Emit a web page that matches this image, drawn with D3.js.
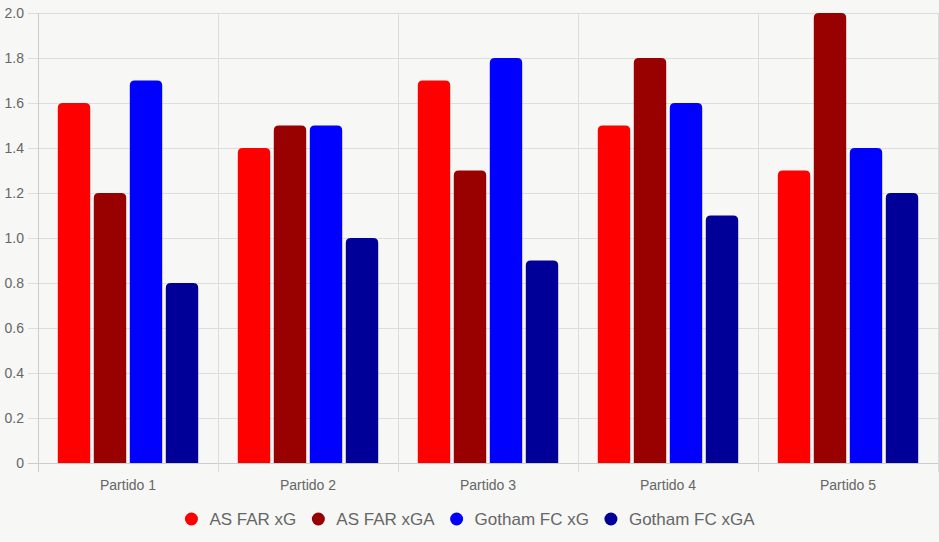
<!DOCTYPE html>
<html>
<head>
<meta charset="utf-8">
<script src="https://cdn.jsdelivr.net/npm/d3@7"></script>
<style>
  body { margin: 0; background: #f7f7f5; }
  svg { display: block; font-family: "Liberation Sans", Arial, sans-serif; }
</style>
</head>
<body>
<svg id="chart" width="939" height="542"></svg>
<script>
  const categories = ['Partido 1', 'Partido 2', 'Partido 3', 'Partido 4', 'Partido 5'];
  const seriesNames = ['AS FAR xG', 'AS FAR xGA', 'Gotham FC xG', 'Gotham FC xGA'];
  const seriesColors = ['#ff0000', '#990000', '#0000ff', '#000099'];
  const farXG = [1.6, 1.4, 1.7, 1.5, 1.3];
  const farXGA = [1.2, 1.5, 1.3, 1.8, 2.0];
  const gothamXG = [1.7, 1.5, 1.8, 1.6, 1.4];
  const gothamXGA = [0.8, 1.0, 0.9, 1.1, 1.2];
  const yTicks = [0, 0.2, 0.4, 0.6, 0.8, 1.0, 1.2, 1.4, 1.6, 1.8, 2.0];

  const series = [farXG, farXGA, gothamXG, gothamXGA];
  const plotLeft = 38, plotRight = 938, plotTop = 13, plotBottom = 463;
  const textColor = '#666';
  const gridColor = '#ddd';

  const svg = d3.select('#chart');

  const x = d3.scaleBand().domain(categories).range([plotLeft, plotRight]);
  const inner = d3.scaleBand().domain(d3.range(series.length))
    .range([0, x.bandwidth() * 0.8]);
  const y = d3.scaleLinear().domain([0, 2]).range([plotBottom, plotTop]);

  // horizontal grid + y ticks
  const yg = svg.append('g');
  yg.selectAll('line')
    .data(yTicks)
    .enter().append('line')
    .attr('x1', 28).attr('x2', plotRight)
    .attr('y1', d => Math.round(y(d)) + 0.5)
    .attr('y2', d => Math.round(y(d)) + 0.5)
    .attr('stroke', d => d === 0 ? '#ccc' : gridColor);
  yg.selectAll('text')
    .data(yTicks)
    .enter().append('text')
    .attr('x', 24)
    .attr('y', d => y(d))
    .attr('dy', '0.35em')
    .attr('text-anchor', 'end')
    .attr('fill', textColor)
    .style('font-size', '14px')
    .text(d => d === 0 ? '0' : d.toFixed(1));

  // vertical grid lines at category boundaries
  const bounds = categories.map(c => x(c)).concat([plotRight]);
  svg.append('g').selectAll('line')
    .data(bounds)
    .enter().append('line')
    .attr('x1', d => Math.round(d) + 0.5).attr('x2', d => Math.round(d) + 0.5)
    .attr('y1', plotTop).attr('y2', plotBottom + 9)
    .attr('stroke', (d, i) => i === 0 ? '#ccc' : gridColor);

  // bars with rounded tops
  function barPath(x0, w, y0, y1, r) {
    r = Math.min(r, w / 2, y1 - y0);
    return `M${x0},${y1}V${y0 + r}Q${x0},${y0} ${x0 + r},${y0}H${x0 + w - r}Q${x0 + w},${y0} ${x0 + w},${y0 + r}V${y1}Z`;
  }

  const group = svg.append('g').selectAll('g')
    .data(categories)
    .enter().append('g')
    .attr('transform', c => `translate(${x(c) + x.bandwidth() * 0.1},0)`);

  group.selectAll('path')
    .data((c, ci) => series.map((s, si) => ({ si, v: s[ci] })))
    .enter().append('path')
    .attr('fill', d => seriesColors[d.si])
    .attr('d', d => {
      const bw = inner.bandwidth() * 0.9;
      const bx = inner(d.si) + (inner.bandwidth() - bw) / 2;
      return barPath(bx, bw, y(d.v), plotBottom, 5);
    });

  // x labels
  svg.append('g').selectAll('text')
    .data(categories)
    .enter().append('text')
    .attr('x', c => x(c) + x.bandwidth() / 2)
    .attr('y', 490)
    .attr('text-anchor', 'middle')
    .attr('fill', textColor)
    .style('font-size', '14px')
    .text(c => c);

  // legend
  const legend = svg.append('g');
  const items = legend.selectAll('g')
    .data(seriesNames)
    .enter().append('g');
  items.append('circle')
    .attr('r', 6.5)
    .attr('cy', 519)
    .attr('fill', (d, i) => seriesColors[i]);
  items.append('text')
    .attr('y', 519)
    .attr('dy', '0.35em')
    .attr('fill', textColor)
    .style('font-size', '17px')
    .text(d => d);

  let pos = 0;
  const offsets = [];
  items.each(function () {
    const w = d3.select(this).select('text').node().getComputedTextLength();
    offsets.push(pos);
    pos += 25 + w + 15;
  });
  const total = pos - 15;
  const start = 939 / 2 - total / 2;
  items.each(function (d, i) {
    const g = d3.select(this);
    g.select('circle').attr('cx', start + offsets[i] + 7);
    g.select('text').attr('x', start + offsets[i] + 25);
  });
</script>
</body>
</html>
